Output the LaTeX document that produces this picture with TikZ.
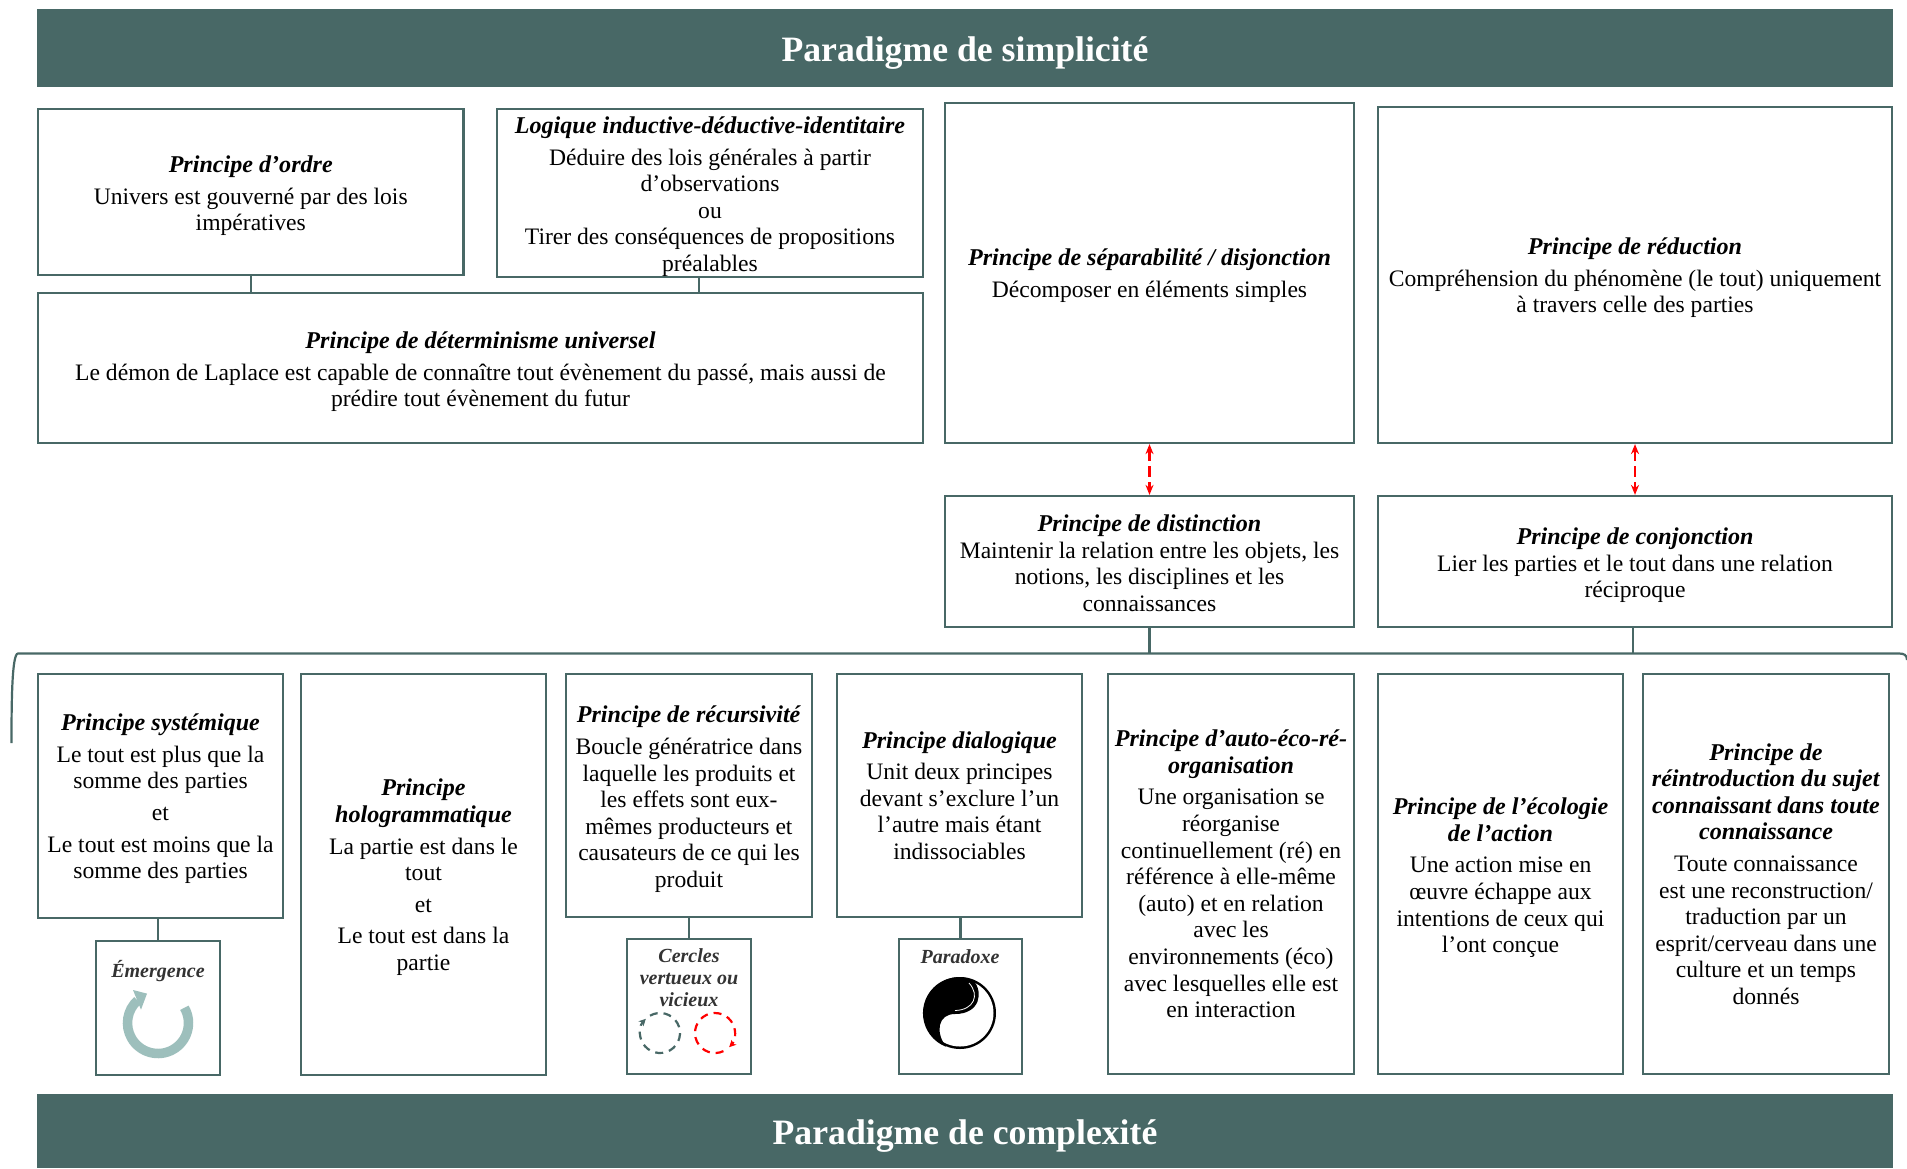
\documentclass[tikz,border=0pt]{standalone}
\usepackage{fontspec}
\setmainfont{Liberation Serif}
\usetikzlibrary{arrows.meta}
\definecolor{tealdark}{HTML}{486866}
\definecolor{tealpale}{HTML}{9DBFBC}
\newcommand{\ptitle}[1]{{\fontsize{24.1}{26.6}\selectfont\textbf{\textit{#1}}}}
\tikzset{
  box/.style={draw=tealdark,line width=2.2pt,fill=white,inner sep=0pt,align=center,font=\fontsize{23.6}{26.6}\selectfont},
  bar/.style={fill=tealdark,text=white,inner sep=0pt,align=center,font=\fontsize{35.7}{36}\selectfont\bfseries,execute at begin node={\rule{0pt}{34pt}}},
  link/.style={draw=tealdark,line width=2.2pt},
  redlink/.style={draw=red,line width=2.4pt,dash pattern=on 11pt off 5pt,{Stealth[length=10pt,width=8pt]}-{Stealth[length=10pt,width=8pt]}},
  smalltitle/.style={inner sep=0pt,align=center,text=black!80,font=\fontsize{20}{22}\selectfont\bfseries\itshape}
}
\begin{document}
\begin{tikzpicture}[x=1pt,y=-1pt]
  \useasboundingbox (0,0) rectangle (1907,1168);
  \node[bar,minimum width=1856pt,minimum height=78pt] (simplicite) at (965,48) {Paradigme de simplicité};
  \node[bar,minimum width=1856pt,minimum height=74pt] (complexite) at (965,1131) {Paradigme de complexité};

  \node[box,minimum width=425.5pt,minimum height=166pt] (ordre) at (250.75,192) {\\[-2.4pt]\ptitle{Principe d’ordre}\\[5pt]
    Univers est gouverné par des lois\\impératives};
  \node[box,minimum width=426pt,minimum height=168pt] (logique) at (710,193) {\\[-2.4pt]\ptitle{Logique inductive-déductive-identitaire}\\[5pt]
    Déduire des lois générales à partir\\d’observations\\ou\\Tirer des conséquences de propositions\\préalables};
  \node[box,minimum width=885pt,minimum height=150pt] (determinisme) at (480.5,368) {\\[-2.4pt]\ptitle{Principe de déterminisme universel}\\[5pt]
    Le démon de Laplace est capable de connaître tout évènement du passé, mais aussi de\\prédire tout évènement du futur};
  \node[box,minimum width=409pt,minimum height=340pt] (separabilite) at (1149.5,273) {\\[-4.4pt]\ptitle{Principe de séparabilité / disjonction}\\[5pt]
    Décomposer en éléments simples};
  \node[box,minimum width=514pt,minimum height=336pt] (reduction) at (1635,275) {\\[-4.4pt]\ptitle{Principe de réduction}\\[5pt]
    Compréhension du phénomène (le tout) uniquement\\à travers celle des parties};
  \node[box,minimum width=409pt,minimum height=131pt] (distinction) at (1149.5,561.5) {\\[-6pt]\ptitle{Principe de distinction}\\
    Maintenir la relation entre les objets, les\\notions, les disciplines et les\\connaissances};
  \node[box,minimum width=514pt,minimum height=131pt] (conjonction) at (1635,561.5) {\\[-2.4pt]\ptitle{Principe de conjonction}\\
    Lier les parties et le tout dans une relation\\réciproque};

  \node[box,minimum width=245pt,minimum height=244pt] (systemique) at (160.5,796) {\\[-4.4pt]\ptitle{Principe systémique}\\[5pt]
    Le tout est plus que la\\somme des parties\\[5pt]et\\[5pt]Le tout est moins que la\\somme des parties};
  \node[box,minimum width=245pt,minimum height=401pt] (holo) at (423.5,874.5) {\\[-4.4pt]\ptitle{Principe}\\\ptitle{hologrammatique}\\[5pt]
    La partie est dans le\\tout\\[5pt]et\\[5pt]Le tout est dans la\\partie};
  \node[box,minimum width=246pt,minimum height=243pt] (recursivite) at (689,795.5) {\\[-2.4pt]\ptitle{Principe de récursivité}\\[5pt]
    Boucle génératrice dans\\laquelle les produits et\\les effets sont eux-\\mêmes producteurs et\\causateurs de ce qui les\\produit};
  \node[box,minimum width=245pt,minimum height=243pt] (dialogique) at (959.5,795.5) {\ptitle{Principe dialogique}\\[5pt]
    Unit deux principes\\devant s’exclure l’un\\l’autre mais étant\\indissociables};
  \node[box,minimum width=246pt,minimum height=400pt] (auto) at (1231,874) {\ptitle{Principe d’auto-éco-ré-}\\\ptitle{organisation}\\[5pt]
    Une organisation se\\réorganise\\continuellement (ré) en\\référence à elle-même\\(auto) et en relation\\avec les\\environnements (éco)\\avec lesquelles elle est\\en interaction};
  \node[box,minimum width=245pt,minimum height=400pt] (ecologie) at (1500.5,874) {\\[-2.4pt]\ptitle{Principe de l’écologie}\\\ptitle{de l’action}\\[5pt]
    Une action mise en\\œuvre échappe aux\\intentions de ceux qui\\l’ont conçue};
  \node[box,minimum width=246pt,minimum height=400pt] (reintroduction) at (1766,874) {\ptitle{Principe de}\\\ptitle{réintroduction du sujet}\\\ptitle{connaissant dans toute}\\\ptitle{connaissance}\\[5pt]
    Toute connaissance\\est une reconstruction/\\traduction par un\\esprit/cerveau dans une\\culture et un temps\\donnés};

  \node[box,minimum width=124pt,minimum height=134pt] (emergence) at (158,1008) {};
  \node[box,minimum width=124pt,minimum height=135pt] (cercles) at (689,1006.5) {};
  \node[box,minimum width=123pt,minimum height=135pt] (paradoxe) at (960.5,1006.5) {};
  \node[smalltitle] (emergencetitle) at (158,971) {Émergence};
  \node[smalltitle] (cerclestitle) at (689,978) {Cercles\\vertueux ou\\vicieux};
  \node[smalltitle] (paradoxetitle) at (960,957) {Paradoxe};

  \draw[link] (ordre.south) -- (ordre.south |- determinisme.north);
  \draw[link] ([xshift=-11pt]logique.south) -- ([xshift=-11pt]logique.south |- determinisme.north);
  \foreach \a/\b in {emergence/systemique,cercles/recursivite,paradoxe/dialogique}
    \draw[link] (\a.north) -- (\a.north |- \b.south);
  \draw[redlink] (separabilite.south) -- (distinction.north);
  \draw[redlink] (reduction.south) -- (conjonction.north);

  \coordinate (bracketleft) at (11.5,743);
  \coordinate (brackettop) at (18,653.5);
  \coordinate (bracketright) at (1907,660);
  \draw[link] (bracketleft) .. controls (11.5,700) and (12,653.5) .. (brackettop) -- (1899,653.5) .. controls (1904,653.5) and (1907,655) .. (bracketright);
  \draw[link] (distinction.south) -- (distinction.south |- brackettop);
  \draw[link] ([xshift=-2pt]conjonction.south) -- ([xshift=-2pt]conjonction.south |- brackettop);

  \draw[tealpale,line width=9.5pt] (158,1023) ++(30:30.5pt) arc[start angle=30,end angle=-228,radius=30.5pt];
  \fill[tealpale] (133,990) -- (147,993.6) -- (141,1009.6) -- cycle;
  \draw[tealdark,line width=2.2pt,dash pattern=on 8pt off 6pt,-{Stealth[length=7pt,width=7pt]}] (660,1033) ++(120:20pt) arc[start angle=120,end angle=-225,radius=20pt];
  \draw[red,line width=2.2pt,dash pattern=on 8pt off 6pt,-{Stealth[length=7pt,width=7pt]}] (715,1033) ++(-65:20pt) arc[start angle=-65,end angle=-405,radius=20pt];

  \fill[black] (960,1013) circle[radius=36pt];
  \fill[white] (960,1013) circle[radius=33.5pt];
  \fill[black] (973,980) arc[start angle=67,end angle=249,radius=36pt] .. controls (935,1032) and (938,1014) .. (955,1014) .. controls (980,1014) and (984,992) .. (973,980) -- cycle;
  \draw[white,line width=0.8pt] (969,983) .. controls (980,995) and (974,1010) .. (955,1010.5);
  \draw[white,line width=0.8pt] (955,1017) .. controls (940,1019) and (938,1034) .. (947,1042);
\end{tikzpicture}
\end{document}
